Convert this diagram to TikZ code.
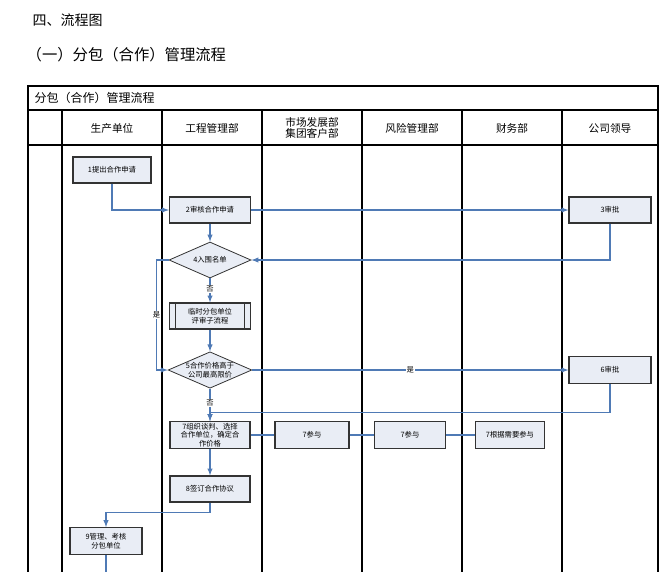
\documentclass[tikz,border=0pt]{standalone}
\usepackage{fontspec}
\setmainfont{Noto Sans CJK SC}
\usetikzlibrary{arrows,shapes.geometric}
\definecolor{boxfill}{HTML}{E9EDF5}
\definecolor{flow}{HTML}{4F7AB5}
\tikzset{
  stepbox/.style={draw=black!80,fill=boxfill,line width=0.8pt,inner sep=1pt,align=center,font=\fontsize{5.5}{6.5}\selectfont},
  decide/.style={diamond,draw=black!80,fill=boxfill,line width=0.6pt,aspect=2.3,inner sep=0pt,align=center,font=\fontsize{5.5}{6.5}\selectfont},
  flowline/.style={draw=flow,line width=0.8pt,-latex},
  joinline/.style={draw=flow,line width=1.4pt},
  lane/.style={draw=black,line width=1pt},
  lbl/.style={font=\fontsize{5.5}{6.5}\selectfont,inner sep=0.5pt,fill=white},
  head/.style={font=\fontsize{8}{9}\selectfont,align=center}
}
\begin{document}
\begin{tikzpicture}[x=0.75pt,y=-0.75pt]
		\useasboundingbox (0,0) rectangle (666,571);
%		headings
		\node[anchor=west,font=\fontsize{10.5}{12}\selectfont] (h1) at (28,20) {四、流程图};
		\node[anchor=west,font=\fontsize{11.5}{13}\selectfont] (h2) at (22,55) {（一）分包（合作）管理流程};
%		frame and lanes
		\draw[lane] (28,600) -- (28,86) -- (658,86) -- (658,600);
		\draw[lane] (28,110) -- (658,110);
		\draw[lane] (28,145) -- (658,145);
		\foreach \x in {62,162,262,362,462,562}
			\draw[lane] (\x,110) -- (\x,600);
		\node[anchor=west,font=\fontsize{9}{10}\selectfont] (title) at (30,98) {分包（合作）管理流程};
		\node[head] (l1) at (112,128) {生产单位};
		\node[head] (l2) at (212,128) {工程管理部};
		\node[head,font=\fontsize{8}{8.5}\selectfont] (l3) at (312,128) {市场发展部\\集团客户部};
		\node[head] (l4) at (412,128) {风险管理部};
		\node[head] (l5) at (512,128) {财务部};
		\node[head] (l6) at (610,128) {公司领导};
%		steps
		\node[stepbox,minimum width=58.5pt,minimum height=19.5pt] (s1) at (112,170) {1提出合作申请};
		\node[stepbox,minimum width=60.75pt,minimum height=19.5pt] (s2) at (210,210) {2审核合作申请};
		\node[stepbox,minimum width=61.5pt,minimum height=19.5pt] (s3) at (610,210) {3审批};
		\node[decide,minimum width=61.5pt,minimum height=27pt] (s4) at (210,260) {4入围名单};
		\node[stepbox,minimum width=60.75pt,minimum height=19.5pt] (sub) at (210,316) {临时分包单位\\评审子流程};
		\draw[black!80,line width=0.6pt] ([xshift=5pt]sub.north west) -- ([xshift=5pt]sub.south west)
			([xshift=-5pt]sub.north east) -- ([xshift=-5pt]sub.south east);
		\node[decide,minimum width=61.5pt,minimum height=27pt] (s5) at (210,370) {5合作价格高于\\公司最高限价};
		\node[stepbox,minimum width=61.5pt,minimum height=20pt] (s6) at (610,370) {6审批};
		\node[stepbox,minimum width=60pt,minimum height=20pt] (s7a) at (210,435) {7组织谈判、选择\\合作单位，确定合\\作价格};
		\node[stepbox,minimum width=55.5pt,minimum height=20pt] (s7b) at (312,435) {7参与};
		\node[stepbox,minimum width=53pt,minimum height=20pt] (s7c) at (410,435) {7参与};
		\node[stepbox,minimum width=52pt,minimum height=20pt] (s7d) at (510,435) {7根据需要参与};
		\node[stepbox,minimum width=60pt,minimum height=19.5pt] (s8) at (210,489) {8签订合作协议};
		\node[stepbox,minimum width=54pt,minimum height=20pt] (s9) at (106,541) {9管理、考核\\分包单位};
		\coordinate (out) at (106,600);
%		connectors
		\draw[flowline] (s1.south) |- (s2.west);
		\draw[flowline] (s2) -- (s3);
		\draw[flowline] (s2) -- (s4);
		\draw[flowline] (s3.south) |- (s4.east);
		\draw[flowline] (s4) -- node[lbl,pos=0.45] {否} (sub);
		\draw[flowline] (s4.west) -- ++(-12,0) |- node[lbl,pos=0.25] {是} (s5.west);
		\draw[flowline] (sub) -- (s5);
		\draw[flowline] (s5) -- node[lbl] {是} (s6);
		\draw[flowline] (s5) -- node[lbl,pos=0.45] {否} (s7a);
		\draw[flowline] (s6.south) -- ++(0,29) -| (s7a.north);
		\draw[joinline] (s7a) -- (s7b);
		\draw[joinline] (s7b) -- (s7c);
		\draw[joinline] (s7c) -- (s7d);
		\draw[flowline] (s7a) -- (s8);
		\draw[flowline] (s8.south) -- ++(0,10) -| (s9.north);
		\draw[flowline,-] (s9) -- (out);
	\end{tikzpicture}
\end{document}
